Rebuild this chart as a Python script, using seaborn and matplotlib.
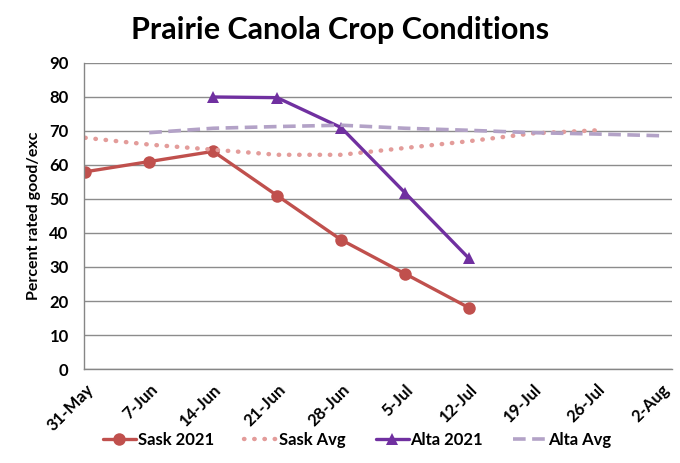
import pandas as pd
import matplotlib.pyplot as plt
import seaborn as sns

weeks = ['31-May', '7-Jun', '14-Jun', '21-Jun', '28-Jun', '5-Jul', '12-Jul', '19-Jul', '26-Jul', '2-Aug']

sask_2021 = [58, 61, 64, 51, 38, 28, 18, None, None, None]
sask_avg = [68, 66, 64.5, 63, 63, 65, 67, 69.3, 70.2, None]
alta_2021 = [None, None, 80, 79.8, 71, 51.8, 32.5, None, None, None]
alta_avg = [None, 69.5, 70.8, 71.3, 71.7, 70.8, 70.2, 69.5, 69.1, 68.6]

series = {
    'Sask 2021': sask_2021,
    'Sask Avg': sask_avg,
    'Alta 2021': alta_2021,
    'Alta Avg': alta_avg,
}

rows = []
for name, vals in series.items():
    for i, v in enumerate(vals):
        if v is not None:
            rows.append({'week': i, 'value': v, 'series': name})
df = pd.DataFrame(rows)

sns.set_style('white')
plt.rcParams['font.family'] = ['Lato', 'DejaVu Sans']
plt.rcParams['font.weight'] = 'bold'
plt.rcParams['text.color'] = 'black'
plt.rcParams['axes.labelcolor'] = 'black'

styles = {
    'Sask 2021': dict(color='#C0504D', lw=2.4, marker='o', markersize=9, linestyle='-'),
    'Sask Avg': dict(color='#E39C9A', lw=3.2, linestyle=(0, (0.1, 2.2)), dash_capstyle='round'),
    'Alta 2021': dict(color='#7030A0', lw=2.4, marker='^', markersize=9, linestyle='-'),
    'Alta Avg': dict(color='#B3A2C7', lw=2.6, linestyle=(0, (3.5, 1.8))),
}

fig = plt.figure(figsize=(6.8, 4.63), dpi=100)
ax = fig.add_axes([0.1235, 0.203, 0.8645, 0.661])

for name, st in styles.items():
    sub = df[df['series'] == name]
    sns.lineplot(data=sub, x='week', y='value', ax=ax, label=name,
                 markeredgewidth=0, **st)

ax.set_ylim(0, 90)
ax.set_yticks(range(0, 91, 10))
ax.set_xlim(-0.02, 9.17)
ax.set_xticks(range(len(weeks)))
ax.set_xticklabels(weeks, rotation=45, ha='right', rotation_mode='anchor')
ax.tick_params(axis='both', labelsize=12, colors='black', length=5, width=1, direction='out')
ax.tick_params(axis='x', color='#868686', pad=4)
ax.tick_params(axis='y', color='#868686', pad=6)
for lab in ax.get_xticklabels() + ax.get_yticklabels():
    lab.set_fontweight('bold')

ax.grid(axis='y', color='#8C8C8C', lw=1)
ax.set_axisbelow(True)
for s in ['top', 'right']:
    ax.spines[s].set_visible(False)
for s in ['left', 'bottom']:
    ax.spines[s].set_color('#868686')
    ax.spines[s].set_linewidth(1)

ax.set_xlabel('')
ax.set_ylabel('Percent rated good/exc', fontsize=11.5, fontweight='bold', labelpad=6, color='black')
fig.suptitle('Prairie Canola Crop Conditions', fontsize=22, fontweight='bold', y=0.965, color='black')

ax.legend_.remove()
handles, labels = ax.get_legend_handles_labels()
leg = fig.legend(handles, labels, loc='lower center', bbox_to_anchor=(0.525, 0.0), ncol=4,
                 frameon=False, fontsize=12, handlelength=2.0, columnspacing=1.8, handletextpad=0.1)
for t in leg.get_texts():
    t.set_fontweight('bold')
    t.set_color('black')

fig.savefig('out.png', dpi=100)
